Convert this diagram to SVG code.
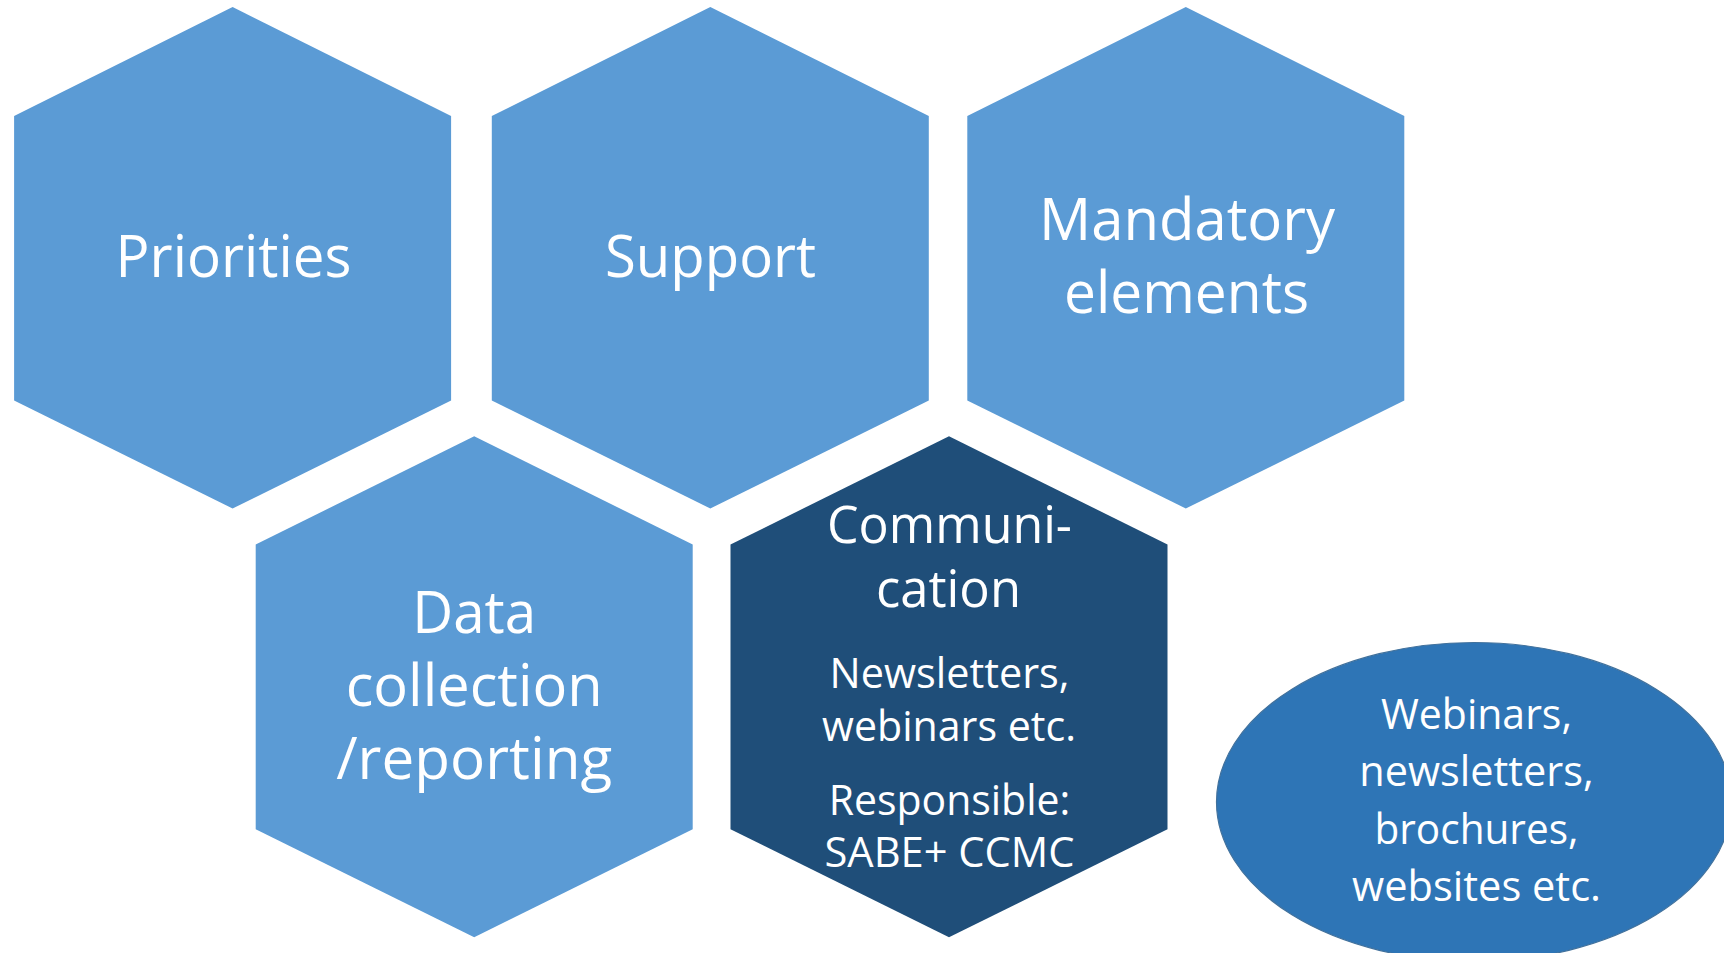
<svg xmlns="http://www.w3.org/2000/svg" width="1724" height="953" viewBox="0 0 1724 953">
  <style>
    .hex-light { fill: #5B9BD5; }
    .hex-dark { fill: #1F4E79; }
    .oval { fill: #2E75B6; stroke: #41719C; stroke-width: 1.2; }
    text { font-family: "Open Sans", "Noto Sans", "Liberation Sans", sans-serif; fill: #FFFFFF; text-anchor: middle; }
    .big { font-size: 58.6px; }
    .mid { font-size: 51.9px; }
    .small { font-size: 42.1px; }
  </style>
  <rect x="0" y="0" width="1724" height="953" fill="#FFFFFF"/>
  <g id="connectors"></g>
  <g id="node-priorities">
    <polygon class="hex-light" points="232.6,7 451.1,116 451.1,400.5 232.6,508.5 14.1,400.5 14.1,116"/>
    <text class="big" x="233.5" y="277" textLength="236" lengthAdjust="spacingAndGlyphs">Priorities</text>
  </g>
  <g id="node-support">
    <polygon class="hex-light" points="710.3,7 928.8,116 928.8,400.5 710.3,508.5 491.8,400.5 491.8,116"/>
    <text class="big" x="710.5" y="277" textLength="211" lengthAdjust="spacingAndGlyphs">Support</text>
  </g>
  <g id="node-mandatory">
    <polygon class="hex-light" points="1185.8,7 1404.3,116 1404.3,400.5 1185.8,508.5 967.3,400.5 967.3,116"/>
    <text class="big" x="1187" y="239.5" textLength="296" lengthAdjust="spacingAndGlyphs">Mandatory</text>
    <text class="big" x="1186.5" y="313" textLength="245" lengthAdjust="spacingAndGlyphs">elements</text>
  </g>
  <g id="node-data">
    <polygon class="hex-light" points="474.2,436.3 692.7,544.5 692.7,829.3 474.2,937.3 255.7,829.3 255.7,544.5"/>
    <text class="big" x="474.2" y="633" textLength="124" lengthAdjust="spacingAndGlyphs">Data</text>
    <text class="big" x="474.2" y="705.5" textLength="257" lengthAdjust="spacingAndGlyphs">collection</text>
    <text class="big" x="474.2" y="778.5" textLength="276" lengthAdjust="spacingAndGlyphs">/reporting</text>
  </g>
  <g id="node-communication">
    <polygon class="hex-dark" points="949,436.3 1167.5,544.5 1167.5,829.3 949,937.3 730.5,829.3 730.5,544.5"/>
    <text class="mid" x="949.5" y="542.5" textLength="245" lengthAdjust="spacingAndGlyphs">Communi-</text>
    <text class="mid" x="948.5" y="606.5" textLength="145" lengthAdjust="spacingAndGlyphs">cation</text>
    <text class="small" x="949.5" y="688" textLength="240" lengthAdjust="spacingAndGlyphs">Newsletters,</text>
    <text class="small" x="949" y="741" textLength="254" lengthAdjust="spacingAndGlyphs">webinars etc.</text>
    <text class="small" x="949.5" y="814.5" textLength="241.5" lengthAdjust="spacingAndGlyphs">Responsible:</text>
    <text class="small" x="949.5" y="866.5" textLength="250" lengthAdjust="spacingAndGlyphs">SABE+ CCMC</text>
  </g>
  <g id="node-channels">
    <ellipse class="oval" cx="1474" cy="802" rx="257.5" ry="159.5"/>
    <text class="small" x="1476.5" y="728.5" textLength="191" lengthAdjust="spacingAndGlyphs">Webinars,</text>
    <text class="small" x="1476.5" y="786" textLength="234.5" lengthAdjust="spacingAndGlyphs">newsletters,</text>
    <text class="small" x="1476.5" y="843.5" textLength="204" lengthAdjust="spacingAndGlyphs">brochures,</text>
    <text class="small" x="1476.5" y="901" textLength="249" lengthAdjust="spacingAndGlyphs">websites etc.</text>
  </g>
</svg>
